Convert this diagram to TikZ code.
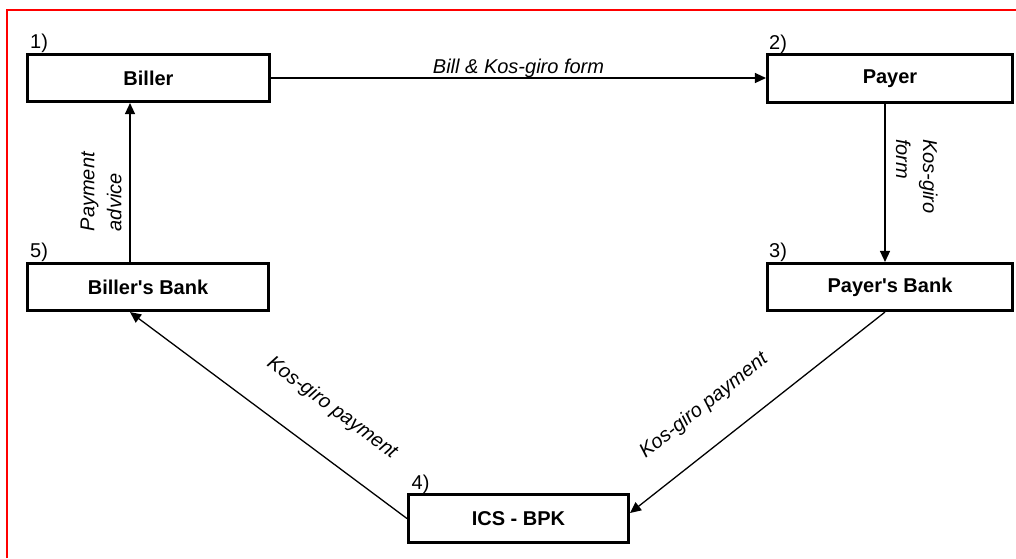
\documentclass[tikz,border=0pt]{standalone}
\usepackage{fontspec}
\setmainfont{Liberation Sans}
\usetikzlibrary{arrows.meta,calc}
\begin{document}
\begin{tikzpicture}[x=1pt,y=-1pt,
  box/.style={draw, line width=2.6pt, minimum height=47.5pt, inner sep=0pt,
    font=\fontsize{20}{27}\selectfont\bfseries},
  num/.style={anchor=base west, inner sep=0pt, font=\fontsize{20}{27}\selectfont},
  lbl/.style={inner sep=0pt, font=\fontsize{20}{27}\selectfont\itshape},
  conn/.style={line width=1.3pt, -{Triangle[length=11pt,width=10pt]}},
  connr/.style={line width=1.3pt, {Triangle[length=11pt,width=10pt]}-},
  frame/.style={draw=red, line width=2pt}
]
\useasboundingbox (0,0) rectangle (1016,558);
\draw[frame] (7,558) -- (7,9.5) -- (1016,9.5);

\node[box, minimum width=242.5pt] (biller) at (148.5,78) {Biller};
\node[box, minimum width=245.5pt] (payer) at (890,78.5) {Payer};
\node[box, minimum width=241.5pt] (bb) at (148,287) {Biller\textquotesingle s Bank};
\node[box, minimum width=245.5pt] (pb) at (890,287) {Payer\textquotesingle s Bank};
\node[box, minimum width=220.5pt] (ics) at (518.5,518.5) {ICS - BPK};

\node[num] (n1) at ([xshift=4pt,yshift=4pt]biller.north west) {1)};
\node[num] (n2) at ([xshift=3pt,yshift=4pt]payer.north west) {2)};
\node[num] (n3) at ([xshift=3pt,yshift=4pt]pb.north west) {3)};
\node[num] (n4) at ([xshift=4.5pt,yshift=3.5pt]ics.north west) {4)};
\node[num] (n5) at ([xshift=4pt,yshift=4.5pt]bb.north west) {5)};

\draw[conn] (biller.east) -- (biller.east -| payer.west)
  node[lbl, midway, anchor=south] {Bill \& Kos-giro form};

\coordinate (ptop) at ([xshift=-5pt]payer.south);
\draw[conn] (ptop) -- (ptop |- pb.north)
  node[lbl, pos=0.459, rotate=-90, anchor=south, align=left, outer ysep=11pt] {Kos-giro\\form};

\coordinate (bbtop) at ([xshift=-18pt]bb.north);
\draw[conn] (bbtop) -- (bbtop |- biller.south)
  node[lbl, pos=0.442, rotate=90, anchor=south, align=left, outer ysep=8.3pt] {Payment\\advice};

\coordinate (pbbot) at ([xshift=-5pt]pb.south);
\draw[connr] ([yshift=5.5pt]ics.east) -- (pbbot)
  node[lbl, pos=0.383, sloped, anchor=south, outer ysep=29pt] {Kos-giro payment};

\coordinate (bbbot) at ([xshift=-18pt]bb.south);
\draw[connr] (bbbot) -- (ics.west)
  node[lbl, pos=0.635, sloped, anchor=south, outer ysep=34.4pt] {Kos-giro payment};
\end{tikzpicture}
\end{document}
